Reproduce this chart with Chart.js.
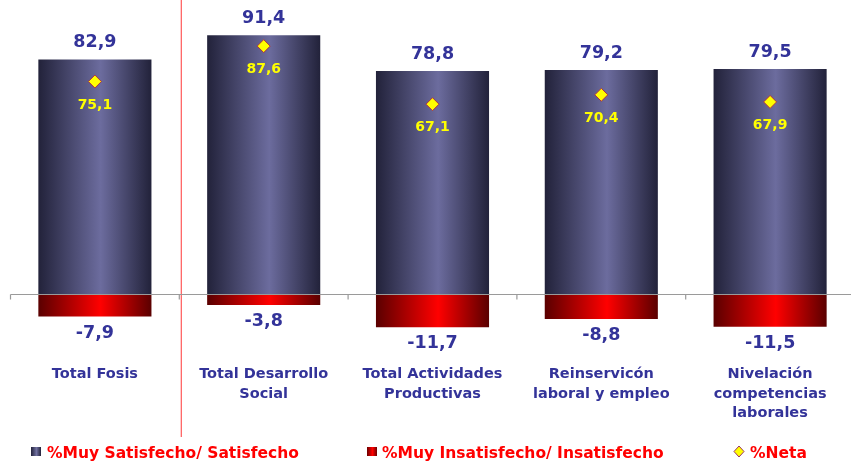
<!DOCTYPE html>
<html>
<head>
<meta charset="utf-8">
<script src="https://cdn.jsdelivr.net/npm/chart.js@4"></script>
<style>
  html, body { margin: 0; padding: 0; background: #fff; }
  #wrap { width: 851px; height: 466px; position: relative; overflow: hidden; }
</style>
</head>
<body>
<div id="wrap"><canvas id="chart" width="862" height="466"></canvas></div>
<script>
// categorias (multilinea)
const categories = [
  ['Total Fosis'],
  ['Total Desarrollo', 'Social'],
  ['Total Actividades', 'Productivas'],
  ['Reinservicón', 'laboral y empleo'],
  ['Nivelación', 'competencias', 'laborales']
];
const satisfecho = [82.9, 91.4, 78.8, 79.2, 79.5];
const insatisfecho = [-7.9, -3.8, -11.7, -8.8, -11.5];
const neta = [75.1, 87.6, 67.1, 70.4, 67.9];
const seriesLabels = ['%Muy Satisfecho/ Satisfecho', '%Muy Insatisfecho/ Insatisfecho', '%Neta'];

const NAVY = '#333399';
const FONT = '"DejaVu Sans", Verdana, sans-serif';
const BAR_PCT = 0.67;

function fmt(v) {
  return v.toFixed(1).replace('.', ',');
}

// degradado horizontal tipo cilindro
function barGradient(ctx, x0, x1, dark, light) {
  let g = ctx.createLinearGradient(x0, 0, x1, 0);
  g.addColorStop(0, dark);
  g.addColorStop(0.55, light);
  g.addColorStop(1, dark);
  return g;
}

function scriptedFill(dark, light) {
  return function(context) {
    const chart = context.chart;
    const x = chart.scales.x;
    if (!chart.chartArea || !x) return light;
    const step = x.getPixelForValue(1) - x.getPixelForValue(0);
    const cx = x.getPixelForValue(context.dataIndex);
    const w = step * BAR_PCT;
    return barGradient(chart.ctx, cx - w / 2, cx + w / 2, dark, light);
  };
}

const decorPlugin = {
  id: 'decor',
  beforeDatasetsDraw(chart) {
    const ctx = chart.ctx;
    const x = chart.scales.x;
    // linea vertical roja tras Total Fosis
    const xs = (x.getPixelForValue(0) + x.getPixelForValue(1)) / 2 + 2;
    ctx.save();
    ctx.strokeStyle = 'rgba(255,70,70,0.9)';
    ctx.lineWidth = 1.2;
    ctx.beginPath();
    ctx.moveTo(xs, 0);
    ctx.lineTo(xs, 437);
    ctx.stroke();
    ctx.restore();
  },
  afterDatasetsDraw(chart) {
    const ctx = chart.ctx;
    const x = chart.scales.x;
    const y = chart.scales.y;
    const y0 = Math.round(y.getPixelForValue(0)) + 0.5;
    ctx.save();
    // eje cero
    ctx.strokeStyle = '#9a9a9a';
    ctx.lineWidth = 1.2;
    ctx.beginPath();
    ctx.moveTo(chart.chartArea.left, y0);
    ctx.lineTo(chart.chartArea.right, y0);
    const step = x.getPixelForValue(1) - x.getPixelForValue(0);
    for (let i = 0; i <= categories.length; i++) {
      const tx = x.getPixelForValue(0) - step / 2 + i * step;
      ctx.moveTo(tx, y0);
      ctx.lineTo(tx, y0 + 5);
    }
    ctx.stroke();

    // etiquetas de valores
    ctx.textAlign = 'center';
    ctx.textBaseline = 'alphabetic';
    const m0 = chart.getDatasetMeta(0).data;
    const m1 = chart.getDatasetMeta(1).data;
    const m2 = chart.getDatasetMeta(2).data;
    ctx.font = 'bold 17.5px ' + FONT;
    ctx.fillStyle = NAVY;
    m0.forEach((el, i) => ctx.fillText(fmt(satisfecho[i]), el.x, el.y - 12));
    m1.forEach((el, i) => ctx.fillText(fmt(insatisfecho[i]), el.x, el.y + 21));
    ctx.font = 'bold 14px ' + FONT;
    ctx.fillStyle = '#ffff00';
    m2.forEach((el, i) => ctx.fillText(fmt(neta[i]), el.x, el.y + 27));

    // categorias
    ctx.font = 'bold 14.5px ' + FONT;
    ctx.fillStyle = NAVY;
    categories.forEach((lines, i) => {
      const cx = x.getPixelForValue(i);
      lines.forEach((t, j) => ctx.fillText(t, cx, 378 + j * 19.5));
    });

    // leyenda
    const ly = 458;
    ctx.font = 'bold 15.5px ' + FONT;
    ctx.textAlign = 'left';
    ctx.fillStyle = barGradient(ctx, 31, 41, '#22223a', '#7070a0');
    ctx.fillRect(31, 447, 10, 9);
    ctx.fillStyle = barGradient(ctx, 367, 377, '#6a0000', '#ff0000');
    ctx.fillRect(367, 447, 10, 9);
    ctx.beginPath();
    ctx.moveTo(739, 446); ctx.lineTo(744, 451.5); ctx.lineTo(739, 457); ctx.lineTo(734, 451.5);
    ctx.closePath();
    ctx.fillStyle = '#ffff00';
    ctx.fill();
    ctx.strokeStyle = '#993366';
    ctx.lineWidth = 1;
    ctx.stroke();
    ctx.fillStyle = '#ff0000';
    ctx.fillText(seriesLabels[0], 47, ly);
    ctx.fillText(seriesLabels[1], 382, ly);
    ctx.fillText(seriesLabels[2], 750, ly);
    ctx.restore();
  }
};

let chart = new Chart(document.getElementById('chart').getContext('2d'), {
  type: 'bar',
  data: {
    labels: categories.map(c => c.join(' ')),
    datasets: [
      {
        label: seriesLabels[0],
        data: satisfecho,
        backgroundColor: scriptedFill('#22223a', '#6c6c9e'),
        borderWidth: 0,
        grouped: false,
        barPercentage: BAR_PCT,
        categoryPercentage: 1.0,
        order: 2
      },
      {
        label: seriesLabels[1],
        data: insatisfecho,
        backgroundColor: scriptedFill('#5a0000', '#ff0000'),
        borderWidth: 0,
        grouped: false,
        barPercentage: BAR_PCT,
        categoryPercentage: 1.0,
        order: 2
      },
      {
        label: seriesLabels[2],
        type: 'line',
        data: neta,
        showLine: false,
        pointStyle: 'rectRot',
        pointRadius: 6.5,
        pointBackgroundColor: '#ffff00',
        pointBorderColor: '#b03040',
        pointBorderWidth: 1,
        order: 1
      }
    ]
  },
  options: {
    responsive: false,
    animation: false,
    layout: { padding: { left: 10.5, right: 1.5, top: 11, bottom: 101 } },
    plugins: { legend: { display: false }, tooltip: { enabled: false } },
    scales: {
      x: { display: false, offset: true },
      y: { display: false, min: -25, max: 100 }
    }
  },
  plugins: [decorPlugin]
});
</script>
</body>
</html>
